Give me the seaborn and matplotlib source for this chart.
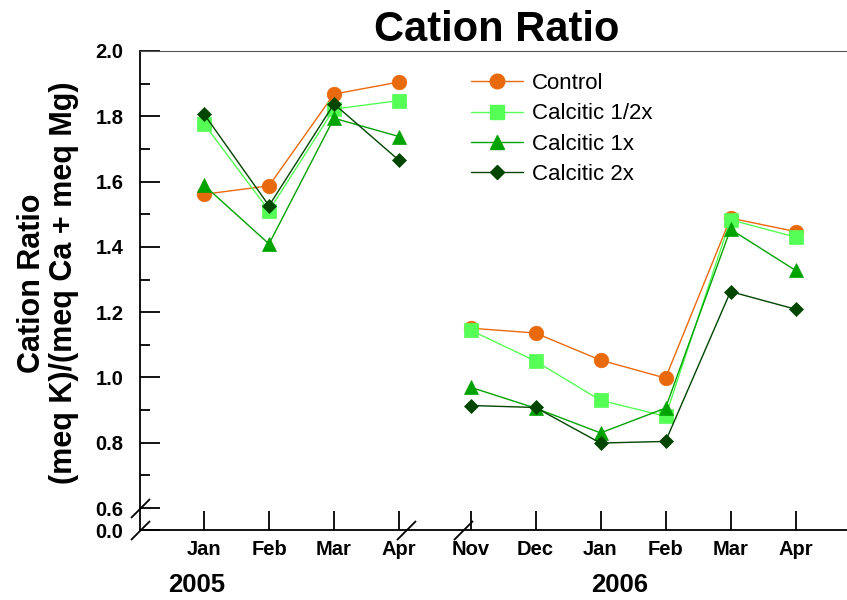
import numpy as np
import pandas as pd
import matplotlib
matplotlib.use("Agg")
import matplotlib.pyplot as plt
from matplotlib.lines import Line2D
import seaborn as sns

# ---------------- data ----------------
months_2005 = ["Jan", "Feb", "Mar", "Apr"]
months_2006 = ["Nov", "Dec", "Jan", "Feb", "Mar", "Apr"]
year_labels = ["2005", "2006"]
series_names = ["Control", "Calcitic 1/2x", "Calcitic 1x", "Calcitic 2x"]

control_2005 = [1.561, 1.587, 1.868, 1.905]
half_2005 = [1.777, 1.511, 1.822, 1.848]
one_2005 = [1.589, 1.409, 1.794, 1.738]
two_2005 = [1.807, 1.526, 1.838, 1.665]

control_2006 = [1.151, 1.136, 1.053, 0.998, 1.488, 1.447]
half_2006 = [1.145, 1.050, 0.930, 0.881, 1.483, 1.430]
one_2006 = [0.970, 0.906, 0.830, 0.906, 1.454, 1.328]
two_2006 = [0.914, 0.908, 0.799, 0.804, 1.263, 1.209]

y_ticks = [0.6, 0.8, 1.0, 1.2, 1.4, 1.6, 1.8, 2.0]
y_ticklabels = ["0.6", "0.8", "1.0", "1.2", "1.4", "1.6", "1.8", "2.0"]
y_zero_label = "0.0"

# ---------------- styling ----------------
colors = ["#E96A0C", "#55FF55", "#00A300", "#004600"]
markers = ["o", "s", "^", "D"]
msizes = [10.5, 10, 10.5, 7.6]

sns.set_style("white")
plt.rcParams["font.family"] = ["Liberation Sans", "DejaVu Sans"]
for k in ["text.color", "axes.labelcolor", "xtick.color", "ytick.color"]:
    plt.rcParams[k] = "black"

pos_2005 = np.arange(len(months_2005), dtype=float)
pos_2006 = np.arange(len(months_2006), dtype=float) + 4.1

vals_2005 = [control_2005, half_2005, one_2005, two_2005]
vals_2006 = [control_2006, half_2006, one_2006, two_2006]

rows = []
for s, v5, v6 in zip(series_names, vals_2005, vals_2006):
    for p, m, v in zip(pos_2005, months_2005, v5):
        rows.append(dict(series=s, period="2005", pos=p, month=m, value=v))
    for p, m, v in zip(pos_2006, months_2006, v6):
        rows.append(dict(series=s, period="2006", pos=p, month=m, value=v))
df = pd.DataFrame(rows)

W, H = 847, 600
fig = plt.figure(figsize=(W / 100, H / 100), dpi=100)
ax_l, ax_r, ax_t, ax_b = 140, 847, 51, 530
ax = fig.add_axes([ax_l / W, 1 - ax_b / H, (ax_r - ax_l) / W, (ax_b - ax_t) / H])

for s, c, mk, ms in zip(series_names, colors, markers, msizes):
    for period in ["2005", "2006"]:
        sub = df[(df.series == s) & (df.period == period)]
        sns.lineplot(data=sub, x="pos", y="value", ax=ax, color=c, marker=mk,
                     markersize=ms, markeredgecolor=c, markeredgewidth=0.5,
                     linewidth=1.0, sort=False, estimator=None, legend=False,
                     clip_on=False)

# axis scales
px_per_unit = (443 - 51) / 1.2
y_bottom = 0.6 - 22 / px_per_unit
ax.set_ylim(y_bottom, 2.0)
x_left = (ax_l - 204) / 65.0
x_right = (ax_r - 204) / 65.0
ax.set_xlim(x_left, x_right)

ax.set_yticks([y_bottom] + y_ticks)
ax.set_yticklabels([y_zero_label] + y_ticklabels, fontweight="bold", fontsize=14.5)
ax.set_yticks(np.arange(0.7, 2.0, 0.2), minor=True)
ax.set_xticks(np.concatenate([pos_2005, pos_2006]))
ax.set_xticklabels(months_2005 + months_2006, fontweight="bold", fontsize=14.5)
ax.tick_params(axis="y", which="major", direction="in", length=14.5, width=1.3, pad=12, left=True)
ax.tick_params(axis="y", which="minor", direction="in", length=7.2, width=1.3, left=True)
ax.tick_params(axis="x", which="major", direction="in", length=14, width=1.3, pad=7, bottom=True)
ax.set_xlabel("")
ax.set_ylabel("")

for sp in ["left", "bottom"]:
    ax.spines[sp].set_linewidth(1.3)
    ax.spines[sp].set_color("black")
ax.spines["right"].set_visible(False)
ax.spines["top"].set_color("#555555")
ax.spines["top"].set_linewidth(0.8)

# break marks
slash = [(-1, -1), (1, 1)]
ytr = ax.get_yaxis_transform()
xtr = ax.get_xaxis_transform()
for yy in [0.6, y_bottom]:
    ax.plot([0], [yy], transform=ytr, marker=slash, ms=13.7, mew=1.3,
            color="black", clip_on=False, ls="none")
for xx in [(406 - 204) / 65.0, (463 - 204) / 65.0]:
    ax.plot([xx], [0], transform=xtr, marker=slash, ms=13.7, mew=1.3,
            color="black", clip_on=False, ls="none")

# legend
handles = [Line2D([], [], color=c, marker=mk, markersize=ms, markeredgecolor=c, lw=1.0)
           for c, mk, ms in zip(colors, markers, msizes)]
leg = fig.legend(handles, series_names, loc="upper left",
                 bbox_to_anchor=(471 / W, 1 - 73 / H), frameon=False,
                 fontsize=16, handlelength=2.35, handletextpad=0.4,
                 labelspacing=0.42, borderpad=0, borderaxespad=0)
for t in leg.get_texts():
    t.set_color("black")

# titles and labels
fig.text(497 / W, 1 - 41 / H, "Cation Ratio", ha="center", va="baseline",
         fontsize=30, fontweight="bold")
fig.text(48 / W, 1 - 283 / H, "Cation Ratio\n(meq K)/(meq Ca + meq Mg)",
         rotation=90, ha="center", va="center", fontsize=22, fontweight="bold",
         linespacing=1.05, multialignment="center")
fig.text(197 / W, 1 - 585 / H, year_labels[0], ha="center", va="center",
         fontsize=18.5, fontweight="bold")
fig.text(620 / W, 1 - 585 / H, year_labels[1], ha="center", va="center",
         fontsize=18.5, fontweight="bold")

fig.savefig("out.png", dpi=100)
